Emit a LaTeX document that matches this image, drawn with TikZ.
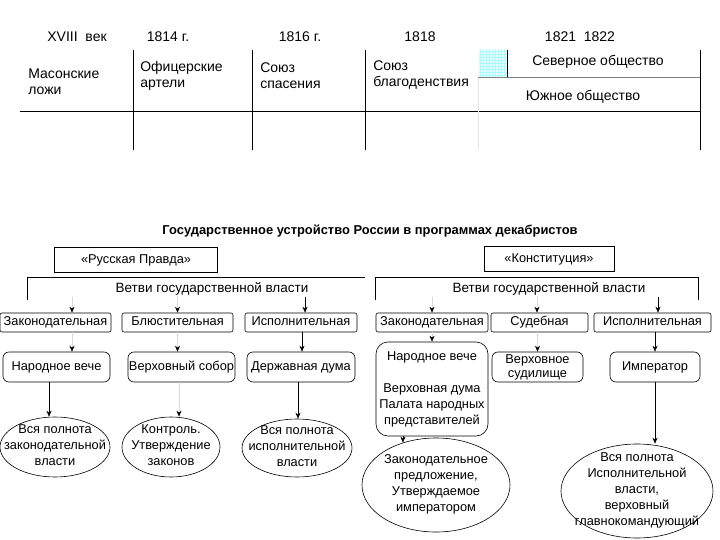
\documentclass[tikz,border=0pt]{standalone}
\usepackage{fontspec}
\setmainfont{Liberation Sans}
\usetikzlibrary{shapes.geometric,arrows.meta,patterns}

% text of an ellipse, not widening it
\newcommand\elltext[1]{\makebox[0pt]{\smash{\raisebox{-2.5pt}{\begin{tabular}{@{}c@{}}#1\end{tabular}}}}}

\begin{document}
\begin{tikzpicture}[x=1pt,y=-1pt,line width=0.6pt,
  font=\fontsize{12.8}{16}\selectfont,
  cell/.style={anchor=west,align=left,inner sep=0,font=\fontsize{14}{16}\selectfont},
  head/.style={inner sep=0,font=\fontsize{14}{16}\selectfont},
  prog/.style={draw,minimum height=25,inner sep=1pt,text height=9pt,text depth=3pt},
  branch/.style={draw,rounded corners=2pt,minimum height=19,inner sep=1pt,text height=9pt,text depth=3pt},
  organ/.style={draw,rounded corners=6pt,minimum height=30,inner sep=1pt,text height=9pt,text depth=3pt},
  organm/.style={draw,rounded corners=6pt,minimum height=30,inner sep=1pt,align=center},
  power/.style={draw,ellipse,inner sep=0},
  arr/.style={-{Stealth[length=6pt,width=5pt]}},
  farr/.style={draw=black!15,-{Stealth[length=6pt,width=5pt,color=black]}}]
\useasboundingbox (0,0) rectangle (720,540);

% periods
\foreach \i/\x/\t in {0/77/XVIII\ \ век,1/168/1814 г.,2/300/1816 г.,3/420/1818,4/580/1821\ \ 1822}
  \node[head] (yr\i) at (\x,37) {\t};

% table
\draw (20,111) -- (700,111);
\foreach \x in {133,252,365,700} \draw (\x,50) -- (\x,150);
\draw[gray!20] (478,77) -- (478,150);
\fill[cyan!6] (479,50) rectangle (507,77);
\fill[pattern=grid,pattern color=cyan!35] (479,50) rectangle (507,77);
\draw (507,50) -- (507,77);
\draw[gray] (478,77) -- (700,77);
\node[cell] (mason) at (28,81.5) {Масонские\\ложи};
\node[cell] (ofic) at (140,75.5) {Офицерские\\артели};
\node[cell] (spas) at (260,75.5) {Союз\\спасения};
\node[cell] (blag) at (373,75.5) {Союз\\благоденствия};
\node[head] (sever) at (598,62) {Северное общество};
\node[head] (yug) at (583,97) {Южное общество};

% programmes
\node[font=\fontsize{12.9}{15}\selectfont\bfseries] (title) at (370,231) {Государственное устройство России в программах декабристов};
\node[prog,minimum width=163] (pravda) at (136,260) {«Русская Правда»};
\node[prog,minimum width=130] (konst) at (549,259) {«Конституция»};

\node[inner sep=1pt,font=\fontsize{13.5}{16}\selectfont] (vetvL) at (212,289) {Ветви государственной власти};
\node[inner sep=1pt,font=\fontsize{13.5}{16}\selectfont] (vetvR) at (549,289) {Ветви государственной власти};
\draw (27,300) |- (365,277);
\draw (375,300) |- (698,277) -- (698,300);

% branches
\node[branch,minimum width=111] (zakL) at (55.5,322.5) {Законодательная};
\node[branch,minimum width=111] (bluL) at (177.5,322.5) {Блюстительная};
\node[branch,minimum width=112] (ispL) at (301,322.5) {Исполнительная};
\node[branch,minimum width=112] (zakR) at (432,322.5) {Законодательная};
\node[branch,minimum width=97] (sudR) at (539.5,322.5) {Судебная};
\node[branch,minimum width=117] (ispR) at (652.5,322.5) {Исполнительная};

\draw[farr] ([xshift=16.5]zakL.north |- vetvL.south) -- ([xshift=16.5]zakL.north);
\draw[farr] (bluL.north |- vetvL.south) -- (bluL.north);
\draw[arr] ([xshift=4]ispL.north |- vetvL.south) -- ([xshift=4]ispL.north);
\draw[farr] (zakR.north |- vetvR.south) -- (zakR.north);
\draw[farr] ([xshift=-2.5]sudR.north |- vetvR.south) -- ([xshift=-2.5]sudR.north);
\draw[arr] ([xshift=5.5]ispR.north |- vetvR.south) -- ([xshift=5.5]ispR.north);

% organs
\node[organ,minimum width=107] (narL) at (56.5,367) {Народное вече};
\node[organ,minimum width=107] (verL) at (181.5,367) {Верховный собор};
\node[organ,minimum width=108] (derL) at (301,367) {Державная дума};
\node[organm,minimum width=112,minimum height=94,rounded corners=12pt] (narR) at (432,389) {Народное вече\\[16pt]Верховная дума\\Палата народных\\представителей};
\node[organm,minimum width=91] (sudil) at (537.5,367) {Верховное\\[-2pt]судилище};
\node[organ,minimum width=90] (imper) at (655,367) {Император};

\draw[farr] ([xshift=16.5]zakL.south) -- ([xshift=16.5]zakL.south |- narL.north);
\draw[farr] (bluL.south) -- (bluL.south |- verL.north);
\draw[arr] ([xshift=1]ispL.south) -- ([xshift=1]ispL.south |- derL.north);
\draw[farr] (zakR.south) -- (narR.north);
\draw[farr] (sudil.north |- sudR.south) -- (sudil.north);
\draw[arr] (imper.north |- ispR.south) -- (imper.north);

% powers
\node[power,minimum width=110,minimum height=60] (powL1) at (55,447) {\elltext{Вся полнота\\законодательной\\власти}};
\node[power,minimum width=98,minimum height=60] (powL2) at (171,447) {\elltext{Контроль.\\Утверждение\\законов}};
\node[power,minimum width=110,minimum height=58] (powL3) at (297,448) {\elltext{Вся полнота\\исполнительной\\власти}};
\node[power,minimum width=148,minimum height=94] (powR1) at (436,485) {\elltext{Законодательное\\предложение,\\Утверждаемое\\императором}};
\node[power,minimum width=152,minimum height=94] (powR2) at (637,491) {\elltext{Вся полнота\\Исполнительной\\власти,\\верховный\\главнокомандующий}};

\draw[arr] ([xshift=-7.5]narL.south) -- ([xshift=-7.5]narL.south |- powL1.north);
\draw[farr] ([xshift=-2.5]verL.south) -- ([xshift=-2.5]verL.south |- powL2.north);
\draw[arr] ([xshift=-3]derL.south) -- ([xshift=-3]derL.south |- powL3.north);
\draw[arr] (powR1.128 |- narR.south) -- (powR1.128);
\draw[arr] (imper.south) -- (imper.south |- powR2.north);
\end{tikzpicture}
\end{document}
